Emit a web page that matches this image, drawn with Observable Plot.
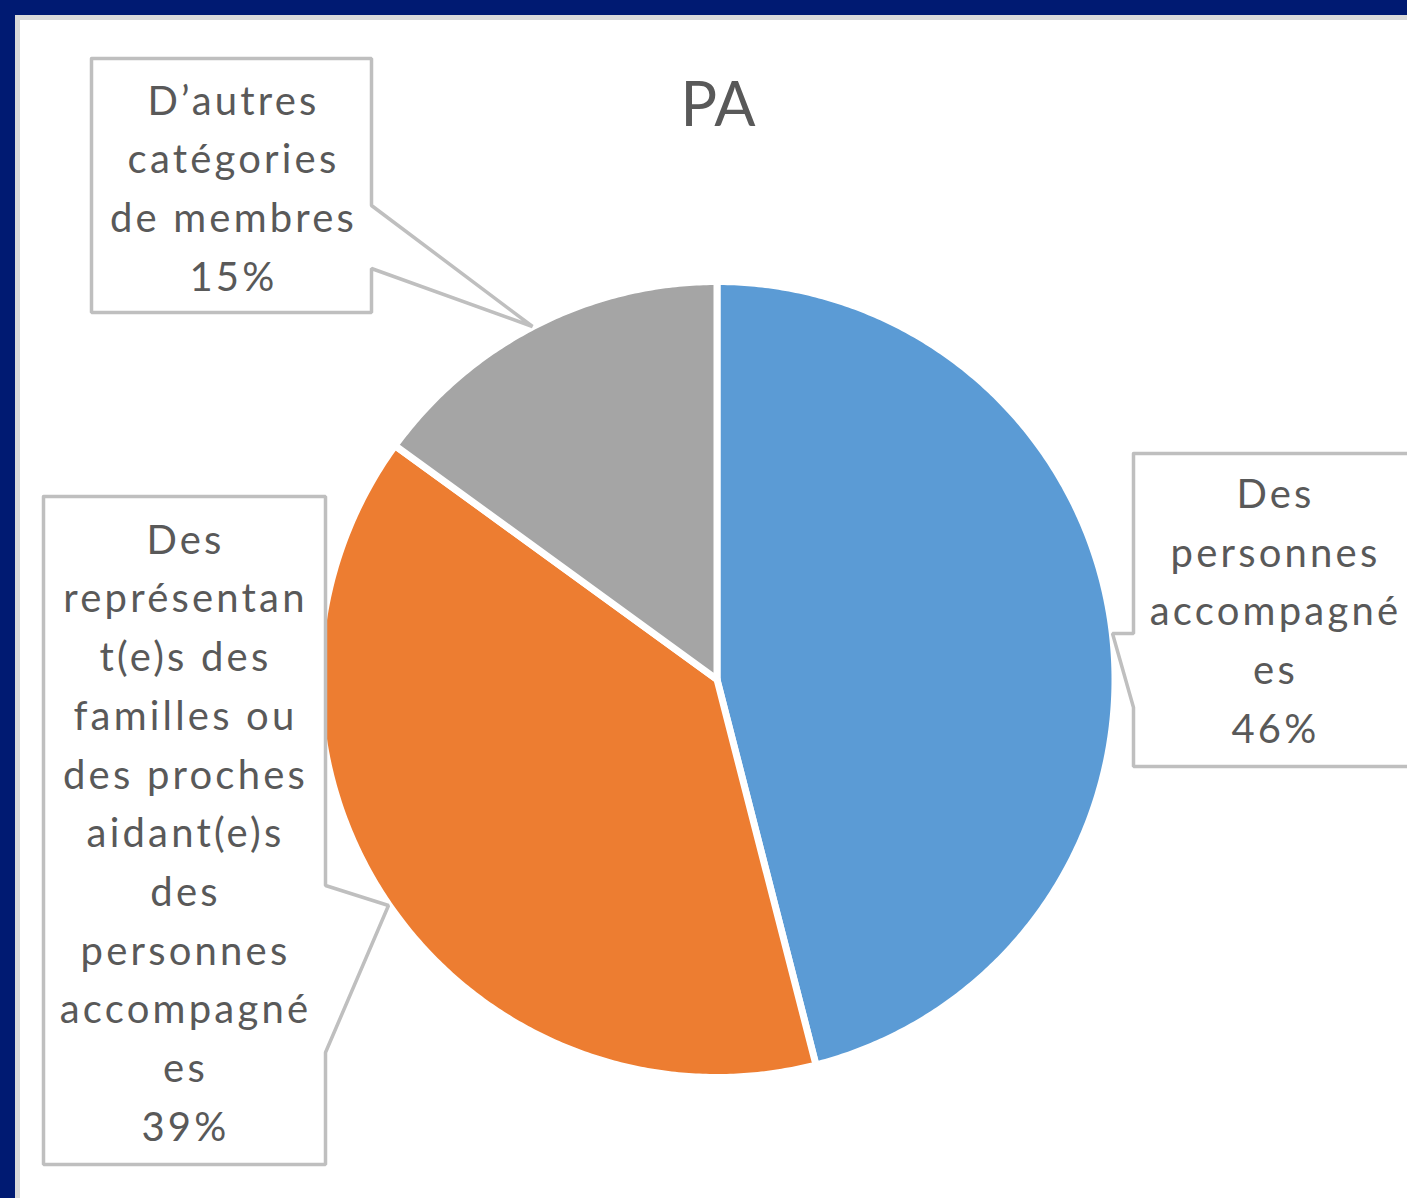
<!DOCTYPE html>
<html><head><meta charset="utf-8">
<script src="https://cdn.jsdelivr.net/npm/d3@7"></script>
<script src="https://cdn.jsdelivr.net/npm/@observablehq/plot@0.6"></script>
<style>
html,body{margin:0;padding:0;background:#fff;width:1407px;height:1198px;overflow:hidden;}
#chart{position:absolute;left:0;top:0;}
.frame{position:absolute;background:#001a72;}
.inner{position:absolute;background:#dadada;}
</style></head><body>
<div id="chart"></div>
<div class="frame" style="left:0;top:0;width:1407px;height:15px"></div>
<div class="frame" style="left:0;top:0;width:15px;height:1198px"></div>
<div class="inner" style="left:15px;top:15px;width:1392px;height:5px"></div>
<div class="inner" style="left:15px;top:15px;width:5px;height:1183px"></div>
<script>
// ---- data ----
const title = "PA";
const categories = [
  "Des personnes accompagnées",
  "Des représentant(e)s des familles ou des proches aidant(e)s des personnes accompagnées",
  "D’autres catégories de membres"
];
const values = [46, 39, 15];
const colors = ["#5B9BD5", "#ED7D31", "#A5A5A5"];
const labelLines = [
  ["Des", "personnes", "accompagné", "es"],
  ["Des", "représentan", "t(e)s des", "familles ou", "des proches", "aidant(e)s", "des", "personnes", "accompagné", "es"],
  ["D’autres", "catégories", "de membres"]
];

// ---- layout (pixels) ----
const pie = {cx: 716.5, cy: 679, r: 398};
const callouts = [
  {box: [1133, 453, 1414, 766], side: "left",  pointer: [[1133, 707], [1112, 633], [1133, 633]], text: [1275, 606]},
  {box: [43, 496, 325, 1164],   side: "right", pointer: [[325, 885], [388, 905], [325, 1052]],  text: [185, 828]},
  {box: [91, 58, 371, 312],     side: "right", pointer: [[371, 205], [532, 326], [371, 268]],   text: [233, 183.5]}
];

// ---- slices ----
const total = d3.sum(values);
const sliceData = [];
let acc = 0;
values.forEach((v, i) => {
  const a0 = acc / total * 2 * Math.PI, a1 = (acc + v) / total * 2 * Math.PI;
  acc += v;
  const n = Math.max(2, Math.ceil((a1 - a0) / (Math.PI / 360)));
  sliceData.push({cat: categories[i], x: pie.cx, y: pie.cy});
  for (let k = 0; k <= n; k++) {
    const a = a0 + (a1 - a0) * k / n;
    sliceData.push({cat: categories[i], x: pie.cx + pie.r * Math.sin(a), y: pie.cy - pie.r * Math.cos(a)});
  }
  sliceData.push({cat: categories[i], x: pie.cx, y: pie.cy});
});

// ---- callout shapes ----
const calloutData = [];
callouts.forEach((c, i) => {
  const [x0, y0, x1, y1] = c.box;
  let pts;
  if (c.side === "left") {
    pts = [[x0, y0], [x1, y0], [x1, y1], [x0, y1], ...c.pointer, [x0, y0]];
  } else {
    pts = [[x0, y0], [x1, y0], ...c.pointer, [x1, y1], [x0, y1], [x0, y0]];
  }
  pts.forEach(([x, y]) => calloutData.push({id: i, x, y}));
});

const labelData = callouts.map((c, i) => ({
  x: c.text[0], y: c.text[1],
  text: labelLines[i].join("\n") + "\n" + values[i] + "%"
}));

const chart = Plot.plot({
  width: 1407, height: 1198, margin: 0,
  x: {domain: [0, 1407], range: [0, 1407], axis: null},
  y: {domain: [0, 1198], range: [0, 1198], axis: null},
  color: {domain: categories, range: colors},
  style: {background: "transparent", fontFamily: "Lato"},
  marks: [
    Plot.line(sliceData, {x: "x", y: "y", z: "cat", fill: "cat", stroke: "white", strokeWidth: 7, strokeLinejoin: "round", curve: "linear"}),
    Plot.line(calloutData, {x: "x", y: "y", z: "id", fill: "white", stroke: "#bfbfbf", strokeWidth: 3.5, strokeLinejoin: "miter", curve: "linear"}),
    Plot.text(labelData, {x: "x", y: "y", text: "text", fontSize: 40, lineHeight: 1.4675, fill: "#595959"}),
    Plot.text([title], {x: () => pie.cx + 1, y: () => 106, text: d => d, fontSize: 61, fill: "#595959"})
  ]
});
const textGroups = chart.querySelectorAll('g[aria-label="text"]');
if (textGroups[0]) textGroups[0].style.letterSpacing = "3.2px";
document.getElementById("chart").appendChild(chart);
</script>
</body></html>
